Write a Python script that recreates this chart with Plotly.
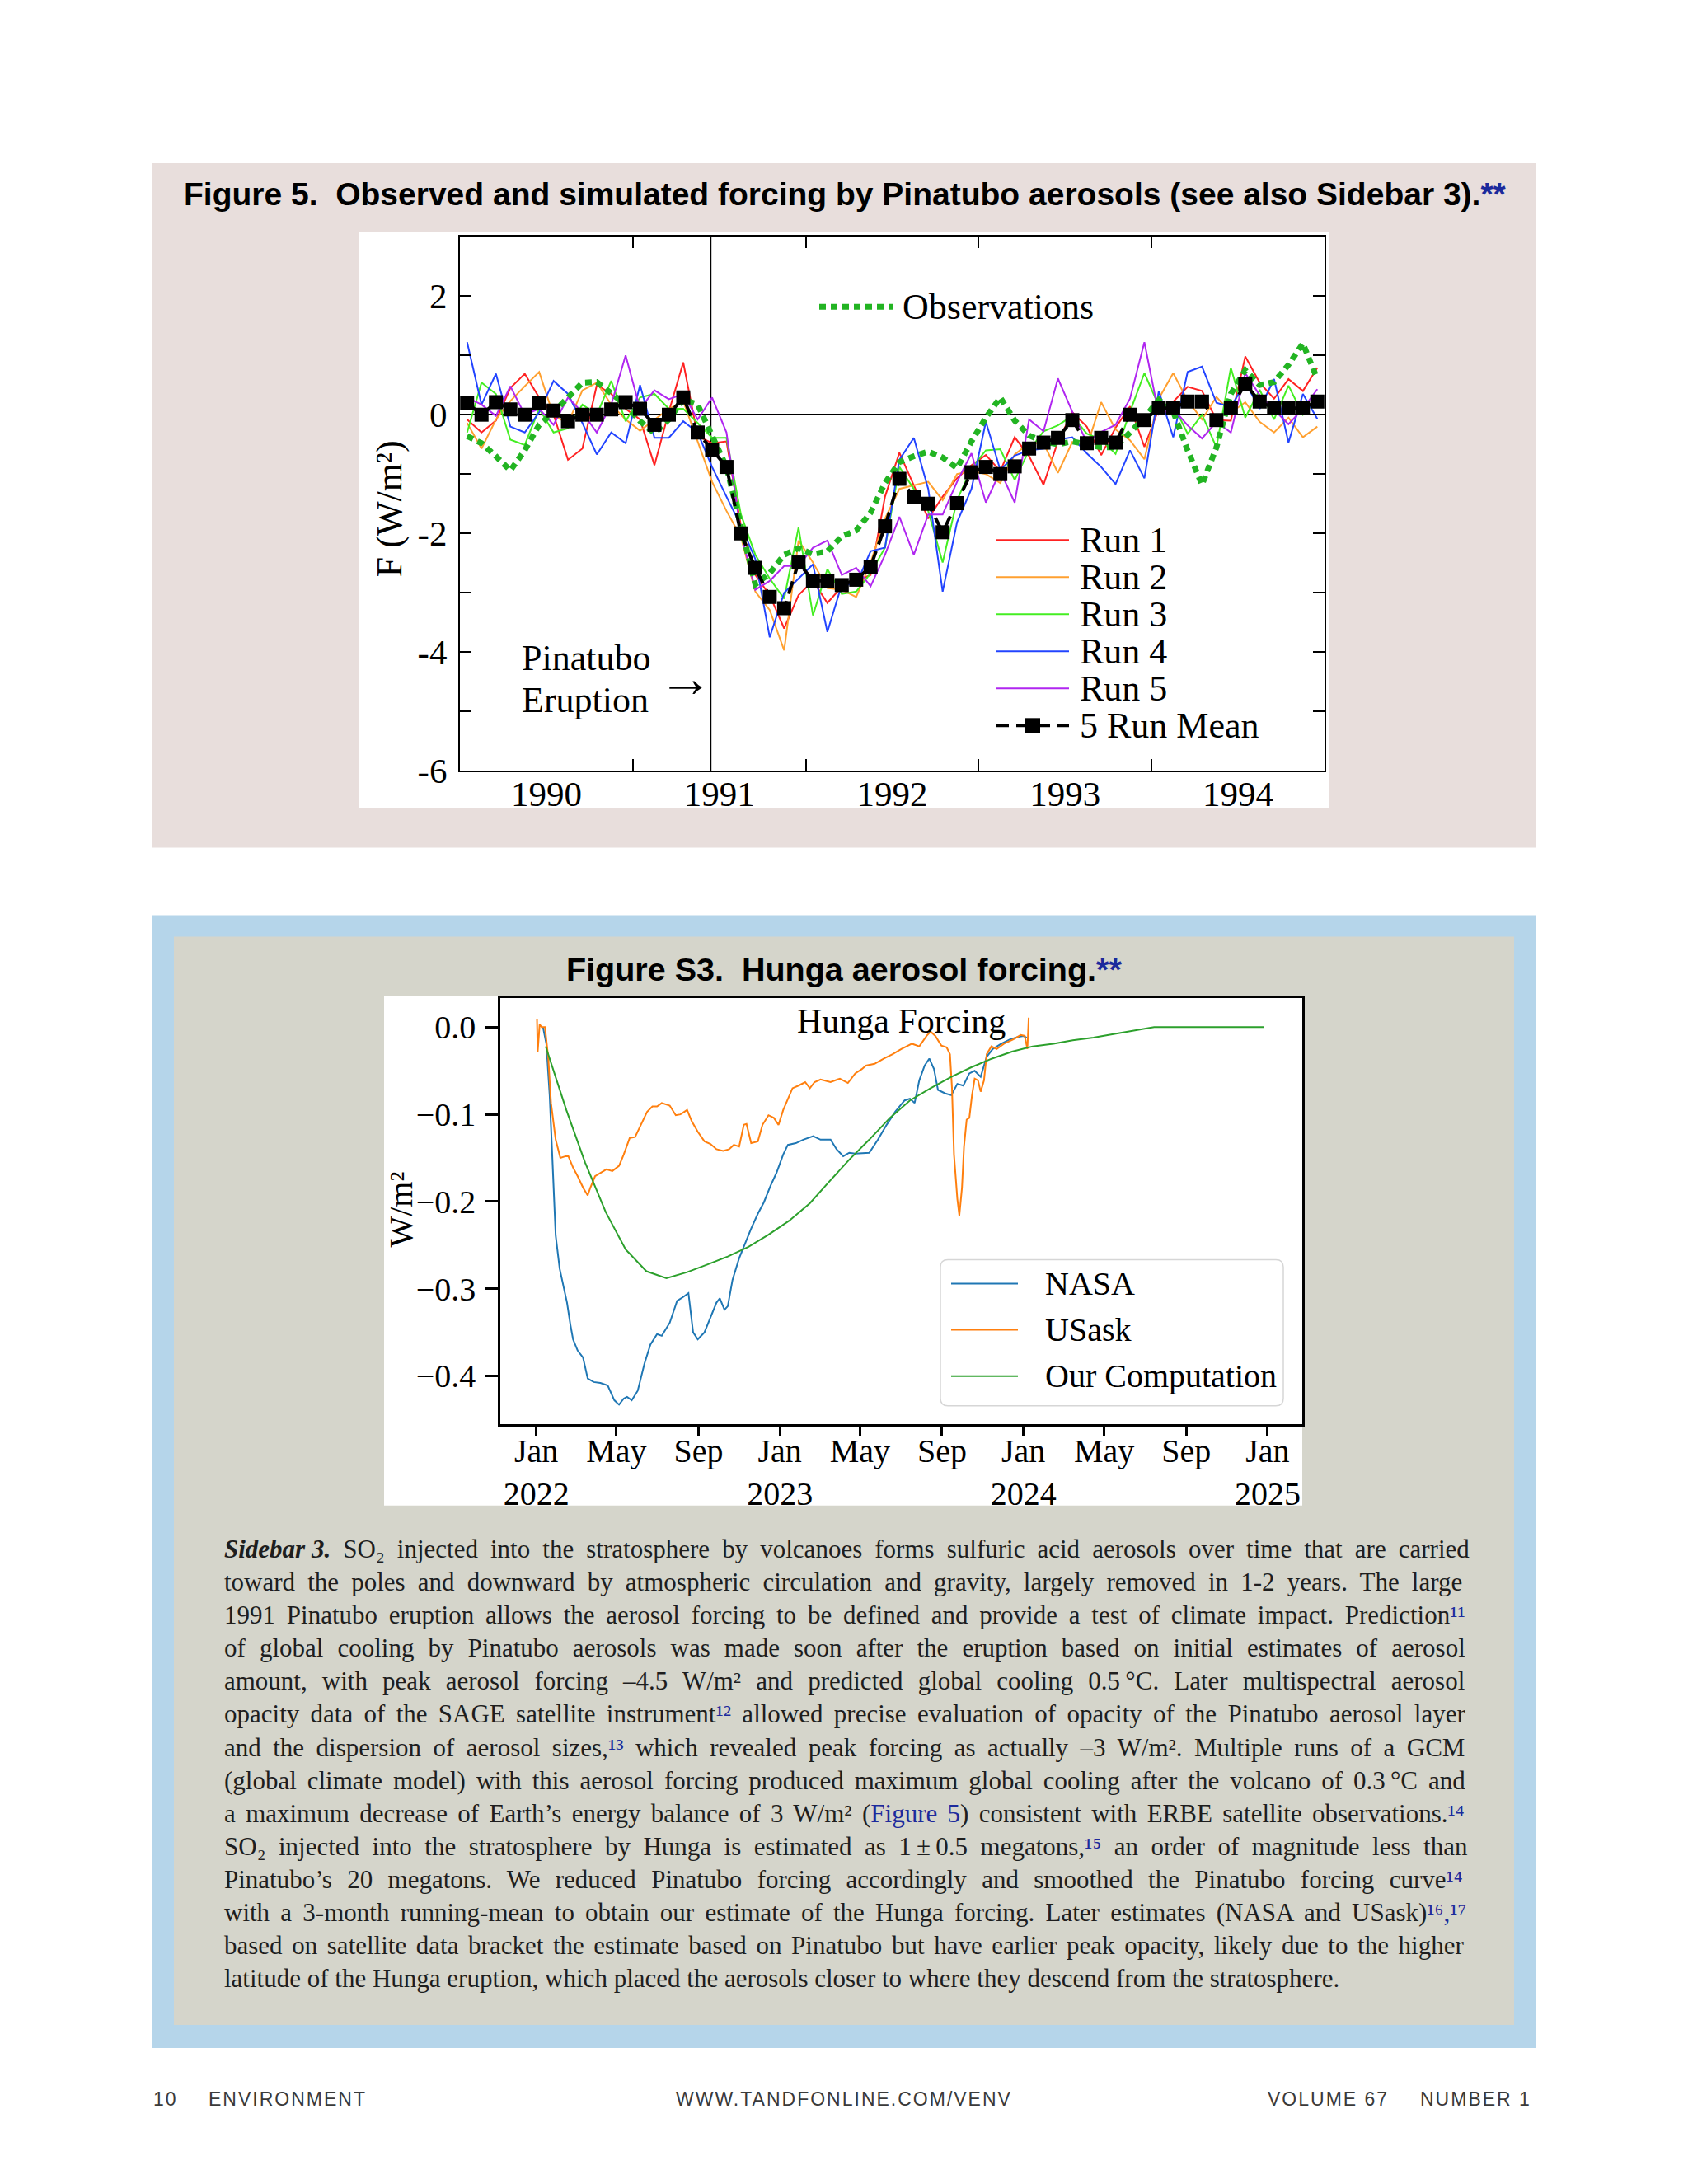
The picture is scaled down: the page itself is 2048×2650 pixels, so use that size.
import pandas as pd
import plotly.graph_objects as go

W, H = 2048, 2650          # reference page size (all positions below are given in these pixels)
FIG_H = 2675               # canvas height used so the photographed page maps 1:1 onto the reference

# ---------------- Figure 5 : Pinatubo forcing (monthly, Jan 1990 - Dec 1994) ----------------
months = pd.period_range("1990-01", periods=60, freq="M")
year_labels = ["1990", "1991", "1992", "1993", "1994"]
year_label_pos = [1990.5, 1991.5, 1992.5, 1993.5, 1994.5]
year_bounds = [1991, 1992, 1993, 1994]
eruption_year = 1991.45

run1 = [-0.08, -0.30, -0.10, 0.45, 0.69, 0.29, 0.00, -0.76, -0.57, 0.50,
        0.35, 0.10, -0.08, -0.85, 0.05, 0.88, -0.36, -0.48, -0.45, -1.87,
        -2.70, -3.04, -3.60, -3.04, -2.80, -3.17, -2.90, -2.80, -2.70, -1.38,
        -0.64, -1.19, -1.75, -1.38, -1.07, -0.85, -0.68, -0.95, -0.38, -0.70,
        -1.18, -0.45, 0.04, -0.20, -0.68, -0.22, 0.14, -0.54, 0.10, 0.22,
        0.47, 0.40, -0.09, -0.10, 0.98, 0.54, 0.27, 0.60, 0.40, 0.79]
run2 = [-0.14, -0.57, -0.08, 0.23, 0.48, 0.72, -0.02, -0.14, 0.41, 0.54,
        0.17, -0.08, -0.27, -0.08, 0.10, 0.23, -0.45, -1.13, -1.62, -2.06,
        -2.98, -3.29, -3.97, -2.12, -2.49, -2.92, -2.95, -3.07, -2.49, -1.75,
        -1.25, -1.19, -1.13, -1.44, -1.00, -0.95, -1.00, -1.15, -0.67, -0.48,
        -0.48, -0.98, -0.46, -0.54, 0.21, -0.25, -0.43, -0.75, 0.27, 0.70,
        0.24, -0.08, 0.30, 0.03, 0.21, -0.12, -0.30, -0.05, -0.38, -0.20]
run3 = [-0.30, 0.54, 0.35, -0.42, -0.51, 0.10, -0.30, -0.23, 0.17, 0.00,
        0.57, -0.11, 0.29, 0.35, 0.10, 0.10, -0.14, -0.39, -0.39, -1.68,
        -2.36, -2.76, -3.10, -1.90, -3.38, -2.60, -3.02, -2.98, -2.67, -2.24,
        -0.88, -1.25, -1.62, -2.49, -1.44, -0.90, -0.60, -0.58, -1.10, -0.60,
        -0.28, -0.18, -0.02, -0.32, -0.42, -0.66, 0.05, 0.70, 0.15, 0.17,
        -0.32, 0.00, -0.55, 0.79, -0.05, 0.42, -0.08, 0.49, 0.00, 0.26]
run4 = [1.22, 0.17, 0.69, -0.20, -0.30, 0.04, 0.57, 0.35, -0.14, -0.67,
        -0.30, -0.48, 0.50, -0.39, -0.39, -0.11, -0.30, -0.88, -1.38, -1.87,
        -2.43, -3.75, -3.00, -2.76, -2.52, -3.66, -2.86, -2.86, -2.30, -2.24,
        -0.76, -0.39, -1.25, -2.98, -1.81, -1.25, -0.12, -0.93, -0.69, -0.60,
        -0.57, -0.42, -0.38, -0.65, -0.88, -1.17, -0.60, -1.07, 0.40, -0.38,
        0.72, 0.81, 0.20, 0.13, 0.54, 0.10, 0.60, -0.47, 0.35, -0.07]
run5 = [0.29, 0.17, -0.02, 0.48, 0.00, 0.10, -0.17, 0.29, 0.04, -0.30,
        0.17, 1.00, 0.10, 0.41, 0.26, 0.35, -0.08, 0.29, -0.30, -2.00,
        -2.95, -2.80, -2.55, -2.55, -2.24, -2.12, -2.70, -2.58, -2.89, -2.36,
        -1.72, -2.36, -1.68, -1.68, -1.13, -0.65, -1.48, -0.95, -1.48, -0.08,
        -0.28, 0.61, 0.05, -0.46, -0.29, -0.17, 0.27, 1.22, 0.00, 0.10,
        -0.18, -0.40, -0.12, -0.30, 0.70, 0.33, 0.08, -0.16, 0.10, 0.43]
mean5 = [0.20, 0.00, 0.21, 0.09, 0.00, 0.20, 0.07, -0.11, 0.00, 0.00,
         0.09, 0.21, 0.10, -0.17, 0.00, 0.29, -0.30, -0.59, -0.88, -2.00,
         -2.58, -3.07, -3.26, -2.49, -2.80, -2.80, -2.87, -2.78, -2.56, -1.88,
         -1.08, -1.38, -1.50, -1.98, -1.49, -0.97, -0.88, -1.00, -0.87, -0.57,
         -0.47, -0.39, -0.09, -0.48, -0.39, -0.47, 0.00, -0.09, 0.11, 0.11,
         0.22, 0.22, -0.09, 0.11, 0.52, 0.22, 0.11, 0.11, 0.11, 0.22]
observations = [-0.36, -0.48, -0.70, -0.94, -0.60, -0.17, 0.04, 0.29, 0.54, 0.55,
                0.35, 0.17, -0.11, -0.31, -0.08, 0.26, 0.17, -0.33, -0.88, -1.87,
                -2.86, -2.67, -2.36, -2.25, -2.35, -2.30, -2.05, -1.95, -1.65, -1.15,
                -0.80, -0.70, -0.62, -0.72, -0.90, -0.45, -0.05, 0.29, -0.10, -0.35,
                -0.45, -0.50, -0.45, -0.50, -0.55, -0.55, -0.30, -0.05, 0.25, 0.05,
                -0.60, -1.18, -0.55, 0.35, 0.75, 0.50, 0.55, 0.84, 1.20, 0.60]

f5_y_ticks = [2, 0, -2, -4, -6]
f5_y_text = ["2", "0", "-2", "-4", "-6"]
f5_y_minor = [1, -1, -3, -5]
run_names = ["Run 1", "Run 2", "Run 3", "Run 4", "Run 5"]
run_colors = ["#FF2222", "#FFA030", "#44EE22", "#2244FF", "#B026F0"]
obs_color = "#22B422"

# ---------------- Figure S3 : Hunga forcing ----------------
s3_start = "2022-01-01"
nasa_day = [10, 15, 20, 25, 29, 35, 41, 46, 51, 55, 62, 70, 77, 86, 96, 107, 117, 124, 131, 136,
            143, 152, 162, 171, 181, 188, 200, 211, 221, 228, 235, 242, 252, 261, 270, 275, 282, 287,
            294, 304, 313, 322, 332, 341, 351, 360, 370, 377, 389, 400, 415, 426, 441, 450, 460, 469,
            478, 499, 512, 525, 538, 552, 560, 567, 574, 582, 589, 596, 602, 613, 622, 631, 640, 649,
            657, 666, 675, 684, 697, 710, 723, 730, 735]
nasa_val = [0.000, -0.019, -0.078, -0.163, -0.239, -0.277, -0.299, -0.316, -0.341, -0.358,
            -0.371, -0.379, -0.403, -0.407, -0.408, -0.411, -0.428, -0.433, -0.426, -0.424,
            -0.428, -0.417, -0.386, -0.364, -0.352, -0.354, -0.339, -0.314, -0.309, -0.305,
            -0.350, -0.358, -0.350, -0.333, -0.316, -0.311, -0.324, -0.320, -0.290, -0.265,
            -0.248, -0.231, -0.214, -0.201, -0.182, -0.167, -0.146, -0.135, -0.133, -0.129,
            -0.125, -0.129, -0.129, -0.140, -0.148, -0.144, -0.145, -0.144, -0.129, -0.112,
            -0.097, -0.084, -0.082, -0.087, -0.061, -0.044, -0.036, -0.048, -0.072, -0.076,
            -0.078, -0.065, -0.067, -0.053, -0.050, -0.057, -0.034, -0.025, -0.019, -0.014,
            -0.011, -0.010, -0.012]
usask_day = [1, 2, 5, 8, 13, 18, 22, 29, 36, 44, 48, 55, 62, 70, 77, 81, 88, 96, 105, 114,
             124, 131, 140, 148, 157, 166, 174, 181, 188, 200, 209, 216, 226, 233, 242, 252, 261,
             270, 280, 289, 296, 304, 311, 315, 322, 332, 339, 348, 356, 363, 370, 379, 384, 393,
             403, 410, 417, 426, 441, 455, 467, 478, 488, 494, 507, 521, 534, 547, 563, 574, 585,
             591, 598, 607, 615, 620, 623, 626, 631, 634, 638, 641, 645, 649, 653, 657, 662, 666,
             671, 675, 682, 690, 701, 715, 726, 732, 736, 738]
usask_val = [0.009, -0.029, 0.003, 0.000, 0.000, -0.036, -0.087, -0.129, -0.150, -0.148,
             -0.148, -0.161, -0.171, -0.184, -0.193, -0.184, -0.171, -0.167, -0.163, -0.165,
             -0.159, -0.146, -0.127, -0.126, -0.112, -0.097, -0.091, -0.091, -0.087, -0.090,
             -0.101, -0.100, -0.095, -0.108, -0.120, -0.131, -0.134, -0.140, -0.142, -0.140,
             -0.135, -0.137, -0.112, -0.111, -0.133, -0.131, -0.112, -0.101, -0.104, -0.112,
             -0.095, -0.078, -0.070, -0.067, -0.063, -0.070, -0.063, -0.060, -0.063, -0.059,
             -0.064, -0.053, -0.048, -0.044, -0.042, -0.036, -0.031, -0.025, -0.019, -0.022,
             -0.010, -0.005, -0.010, -0.021, -0.023, -0.031, -0.070, -0.146, -0.197, -0.216,
             -0.184, -0.137, -0.106, -0.104, -0.078, -0.059, -0.061, -0.074, -0.061, -0.031,
             -0.022, -0.025, -0.019, -0.014, -0.009, -0.010, -0.025, 0.011]
ours_date = ["2022-01-15", "2022-02-15", "2022-03-15", "2022-04-15", "2022-05-15", "2022-06-15",
             "2022-07-15", "2022-08-15", "2022-09-15", "2022-10-15", "2022-11-15", "2022-12-15",
             "2023-01-15", "2023-02-15", "2023-03-15", "2023-04-15", "2023-05-15", "2023-06-15",
             "2023-07-15", "2023-08-15", "2023-09-15", "2023-10-15", "2023-11-15", "2023-12-15",
             "2024-01-15", "2024-02-15", "2024-03-15", "2024-04-15", "2024-05-15", "2024-06-15",
             "2024-07-15", "2024-08-15", "2024-09-15", "2024-10-15", "2024-11-15", "2024-12-15",
             "2024-12-27"]
ours_val = [-0.022, -0.095, -0.155, -0.212, -0.255, -0.280, -0.288, -0.281, -0.272, -0.263,
            -0.252, -0.238, -0.222, -0.202, -0.178, -0.152, -0.129, -0.104, -0.084, -0.070,
            -0.057, -0.046, -0.036, -0.028, -0.022, -0.019, -0.015, -0.012, -0.008, -0.004,
            0.000, 0.000, 0.000, 0.000, 0.000, 0.000, 0.000]
s3_tick_dates = ["2022-01-01", "2022-05-01", "2022-09-01", "2023-01-01", "2023-05-01",
                 "2023-09-01", "2024-01-01", "2024-05-01", "2024-09-01", "2025-01-01"]
s3_tick_text = ["Jan<br>2022", "May", "Sep", "Jan<br>2023", "May", "Sep",
                "Jan<br>2024", "May", "Sep", "Jan<br>2025"]
s3_y_ticks = [0.0, -0.1, -0.2, -0.3, -0.4]
s3_y_text = ["0.0", "\u22120.1", "\u22120.2", "\u22120.3", "\u22120.4"]
s3_names = ["NASA", "USask", "Our Computation"]
s3_colors = ["#1f77b4", "#ff7f0e", "#2ca02c"]

# ---------------- sidebar text ----------------
sidebar_lines = [
    [("bi", "Sidebar 3."), ("n", " SO\u2082 injected into the stratosphere by volcanoes forms sulfuric acid aerosols over time that are carried")],
    [("n", "toward the poles and downward by atmospheric circulation and gravity, largely removed in 1-2 years. The large")],
    [("n", "1991 Pinatubo eruption allows the aerosol forcing to be defined and provide a test of climate impact. Prediction"), ("ref", "\u00b9\u00b9")],
    [("n", "of global cooling by Pinatubo aerosols was made soon after the eruption based on initial estimates of aerosol")],
    [("n", "amount, with peak aerosol forcing \u20134.5 W/m\u00b2 and predicted global cooling 0.5\u2009\u00b0C. Later multispectral aerosol")],
    [("n", "opacity data of the SAGE satellite instrument"), ("ref", "\u00b9\u00b2"), ("n", " allowed precise evaluation of opacity of the Pinatubo aerosol layer")],
    [("n", "and the dispersion of aerosol sizes,"), ("ref", "\u00b9\u00b3"), ("n", " which revealed peak forcing as actually \u20133 W/m\u00b2. Multiple runs of a GCM")],
    [("n", "(global climate model) with this aerosol forcing produced maximum global cooling after the volcano of 0.3\u2009\u00b0C and")],
    [("n", "a maximum decrease of Earth\u2019s energy balance of 3 W/m\u00b2 ("), ("link", "Figure 5"), ("n", ") consistent with ERBE satellite observations."), ("ref", "\u00b9\u2074")],
    [("n", "SO\u2082 injected into the stratosphere by Hunga is estimated as 1\u2009\u00b1\u20090.5 megatons,"), ("ref", "\u00b9\u2075"), ("n", " an order of magnitude less than")],
    [("n", "Pinatubo\u2019s 20 megatons. We reduced Pinatubo forcing accordingly and smoothed the Pinatubo forcing curve"), ("ref", "\u00b9\u2074")],
    [("n", "with a 3-month running-mean to obtain our estimate of the Hunga forcing. Later estimates (NASA and USask)"), ("ref", "\u00b9\u2076,\u00b9\u2077")],
    [("n", "based on satellite data bracket the estimate based on Pinatubo but have earlier peak opacity, likely due to the higher")],
    [("n", "latitude of the Hunga eruption, which placed the aerosols closer to where they descend from the stratosphere.")],
]

# ================= helpers (layout only) =================
SERIF = "Liberation Serif, Times New Roman, serif"
SANS = "Liberation Sans, Arial, sans-serif"
LINK = "#1c2a9c"


def X(px):
    return px / W


def Y(py):
    return 1 - py / H


shapes = []
annotations = []


def rect(x0, y0, x1, y1, fill, line=None, layer="below"):
    shapes.append(dict(type="rect", xref="paper", yref="paper", x0=X(x0), x1=X(x1), y0=Y(y1), y1=Y(y0),
                       fillcolor=fill, line=dict(width=0) if line is None else line, layer=layer))


def hline(x0, x1, y, color, width, dash="solid"):
    shapes.append(dict(type="line", xref="paper", yref="paper", x0=X(x0), x1=X(x1), y0=Y(y), y1=Y(y),
                       line=dict(color=color, width=width, dash=dash), layer="above"))


def ann(text, x, y, size, family=SERIF, xanchor="center", yanchor="middle", color="black", angle=0):
    annotations.append(dict(text=text, x=X(x), y=Y(y), xref="paper", yref="paper", showarrow=False,
                            xanchor=xanchor, yanchor=yanchor, align="left", textangle=angle,
                            font=dict(family=family, size=size, color=color)))


# page panels
rect(184, 198, 1864, 1028, "#E8DEDC")
rect(436, 281, 1612, 980, "white")
rect(184, 1110, 1864, 2484, "#B5D5EA")
rect(211, 1136, 1837, 2456, "#D5D5CB")
rect(466, 1208, 1580, 1826, "white")

fig = go.Figure()

# ---------- Figure 5 traces ----------
xm = [p.year + (p.month - 0.5) / 12 for p in months]
for name, vals, col in zip(run_names, [run1, run2, run3, run4, run5], run_colors):
    fig.add_trace(go.Scatter(x=xm, y=vals, name=name, mode="lines", xaxis="x", yaxis="y",
                             line=dict(color=col, width=2)))
fig.add_trace(go.Scatter(x=xm, y=observations, name="Observations", mode="lines", xaxis="x", yaxis="y",
                         line=dict(color=obs_color, width=7, dash="8px,6px")))
fig.add_trace(go.Scatter(x=xm, y=mean5, name="5 Run Mean", mode="lines+markers", xaxis="x", yaxis="y",
                         line=dict(color="black", width=4, dash="16px,9px"),
                         marker=dict(symbol="square", size=17, color="black")))

shapes.append(dict(type="line", xref="x", yref="y domain", x0=eruption_year, x1=eruption_year, y0=0, y1=1,
                   line=dict(color="black", width=2), layer="below"))

# ---------- Figure S3 traces ----------
t0 = pd.Timestamp(s3_start)
nasa_x = t0 + pd.to_timedelta(nasa_day, unit="D")
usask_x = t0 + pd.to_timedelta(usask_day, unit="D")
for name, xs, ys, col in zip(s3_names, [nasa_x, usask_x, pd.to_datetime(ours_date)],
                             [nasa_val, usask_val, ours_val], s3_colors):
    fig.add_trace(go.Scatter(x=xs, y=ys, name=name, mode="lines", xaxis="x2", yaxis="y2",
                             line=dict(color=col, width=2)))

# ---------- Figure 5 legends / labels ----------
hline(994, 1083, 372, obs_color, 7, "8px,6px")
ann("Observations", 1093, 372, 44, xanchor="left")
legend_rows = [655, 700, 745, 790, 835]
for name, col, yy in zip(run_names, run_colors, legend_rows):
    hline(1208, 1297, yy, col, 2)
    ann(name, 1308, yy, 44, xanchor="left")
hline(1208, 1297, 880, "black", 4, "16px,9px")
rect(1244, 871, 1262, 889, "black", layer="above")
ann("5 Run Mean", 1308, 880, 44, xanchor="left")
ann("Pinatubo", 631, 798, 44, xanchor="left")
ann("Eruption", 631, 849, 44, xanchor="left")
ann("\u2192", 832, 822, 66)
ann("F (W/m\u00b2)", 472, 617, 44, angle=-90)

# ---------- Figure S3 legend / labels ----------
r = 9
lx0, ly0, lx1, ly1 = 1141, 1528, 1557, 1705
path = (f"M {X(lx0 + r)},{Y(ly0)} L {X(lx1 - r)},{Y(ly0)} Q {X(lx1)},{Y(ly0)} {X(lx1)},{Y(ly0 + r)} "
        f"L {X(lx1)},{Y(ly1 - r)} Q {X(lx1)},{Y(ly1)} {X(lx1 - r)},{Y(ly1)} "
        f"L {X(lx0 + r)},{Y(ly1)} Q {X(lx0)},{Y(ly1)} {X(lx0)},{Y(ly1 - r)} "
        f"L {X(lx0)},{Y(ly0 + r)} Q {X(lx0)},{Y(ly0)} {X(lx0 + r)},{Y(ly0)} Z")
shapes.append(dict(type="path", xref="paper", yref="paper", path=path, fillcolor="rgba(255,255,255,0.85)",
                   line=dict(color="#d6d6d6", width=1.5), layer="above"))
for name, col, yy in zip(s3_names, s3_colors, [1557, 1613, 1669]):
    hline(1154, 1235, yy, col, 2)
    ann(name, 1266, yy, 40, xanchor="left")
ann("Hunga Forcing", 1093, 1239, 42)
ann("W/m\u00b2", 487, 1467, 40, angle=-90)

# ---------- titles ----------
ann(f"<b>Figure 5.  Observed and simulated forcing by Pinatubo aerosols (see also Sidebar 3).<span style='color:{LINK}'>**</span></b>",
    1025, 235, 39, family=SANS)
ann(f"<b>Figure S3.  Hunga aerosol forcing.<span style='color:{LINK}'>**</span></b>", 1024, 1176, 39.5, family=SANS)

# ---------- sidebar paragraph (justified lines) ----------
TW = {" ": 250, "(": 333, ")": 333, ",": 250, "-": 333, ".": 250, "/": 278, ":": 278, ";": 278,
      "\u2019": 333, "\u2013": 500, "\u00b1": 564, "\u00b0": 400, "\u2009": 200, "\u2082": 300,
      "\u00b2": 300, "\u00b3": 300, "\u00b9": 300, "\u2074": 300, "\u2075": 300, "\u2076": 300, "\u2077": 300}
for c in "0123456789":
    TW[c] = 500
TW.update(dict(zip("ABCDEFGHIJKLMNOPQRSTUVWXYZ",
                   [722, 667, 667, 722, 611, 556, 722, 722, 333, 389, 722, 611, 889, 722, 722, 556, 722, 667, 556, 611, 722, 722, 944, 722, 722, 611])))
TW.update(dict(zip("abcdefghijklmnopqrstuvwxyz",
                   [444, 500, 444, 500, 444, 333, 500, 500, 278, 278, 500, 278, 778, 500, 500, 500, 500, 333, 389, 278, 500, 500, 722, 500, 500, 444])))


def seg_em(text):
    return sum(TW.get(c, 500) for c in text) / 1000.0


line_em = [sum(seg_em(t) for k, t in ln) for ln in sidebar_lines]
fs = min(31.0, 1500.0 / max(line_em[:-1]))
left, right = 270, 1776
for i, ln in enumerate(sidebar_lines):
    nsp = sum(t.count(" ") for k, t in ln if k in ("n", "link"))
    ws = 0.0
    if i < len(sidebar_lines) - 1 and nsp:
        ws = max(0.0, ((right - left) - line_em[i] * fs) / nsp)
    parts = []
    for k, t in ln:
        if k == "n":
            parts.append(f"<span style='word-spacing:{ws:.2f}px'>{t}</span>")
        elif k == "bi":
            parts.append(f"<b><i>{t}</i></b>")
        elif k == "ref":
            parts.append(f"<span style='color:{LINK}'>{t}</span>")
        elif k == "link":
            parts.append(f"<span style='color:{LINK};word-spacing:{ws:.2f}px'>{t}</span>")
    ann("".join(parts), left, 1879 + 40.04 * i, fs, xanchor="left", color="#1e1e1e")

# ---------- footer ----------
foot = dict(size=23, family=SANS, color="#3a3a3a")
ann("<span style='letter-spacing:2px'>10</span>", 184, 2546, xanchor="left", **foot)
ann("<span style='letter-spacing:2px'>ENVIRONMENT</span>", 251, 2546, xanchor="left", **foot)
ann("<span style='letter-spacing:2px'>WWW.TANDFONLINE.COM/VENV</span>", 1024, 2546, **foot)
ann("<span style='letter-spacing:2px'>VOLUME 67</span>", 1536, 2546, xanchor="left", **foot)
ann("<span style='letter-spacing:2px'>NUMBER 1</span>", 1860, 2546, xanchor="right", **foot)

# ================= layout =================
tick_font5 = dict(family=SERIF, size=43, color="black")
tick_font3 = dict(family=SERIF, size=40, color="black")
fig.update_layout(
    width=W, height=FIG_H, margin=dict(l=0, r=0, t=0, b=0, pad=0),
    paper_bgcolor="white", plot_bgcolor="white", showlegend=False,
    font=dict(family=SERIF, color="black"),
    xaxis=dict(domain=[X(558), X(1607)], range=[1990, 1995], anchor="y",
               tickmode="array", tickvals=year_label_pos, ticktext=year_labels, ticks="", ticklen=0,
               showline=True, linecolor="black", linewidth=2, mirror="allticks", showgrid=False,
               zeroline=False, tickfont=tick_font5, ticklabelstandoff=-11,
               minor=dict(tickmode="array", tickvals=year_bounds, ticks="inside", ticklen=14,
                          tickwidth=2, tickcolor="black", showgrid=False)),
    yaxis=dict(domain=[Y(935), Y(287)], range=[-6, 3], anchor="x",
               tickmode="array", tickvals=f5_y_ticks, ticktext=f5_y_text, ticks="inside", ticklen=14,
               tickwidth=2, tickcolor="black", showline=True, linecolor="black", linewidth=2,
               mirror="allticks", showgrid=False, zeroline=True, zerolinecolor="black", zerolinewidth=2,
               tickfont=tick_font5, ticklabelstandoff=5,
               minor=dict(tickmode="array", tickvals=f5_y_minor, ticks="inside", ticklen=14,
                          tickwidth=2, tickcolor="black", showgrid=False)),
    xaxis2=dict(domain=[X(607), X(1580)], type="date", range=["2021-11-08", "2025-02-22"], anchor="y2",
                tickmode="array", tickvals=s3_tick_dates, ticktext=s3_tick_text, ticks="outside",
                ticklen=12, tickwidth=2.5, tickcolor="black", showline=True, linecolor="black",
                linewidth=2.5, mirror=True, showgrid=False, zeroline=False, tickfont=tick_font3,
                ticklabelstandoff=-16),
    yaxis2=dict(domain=[Y(1727), Y(1211)], range=[-0.455, 0.033], anchor="x2",
                tickmode="array", tickvals=s3_y_ticks, ticktext=s3_y_text, ticks="outside",
                ticklen=15, tickwidth=2.5, tickcolor="black", showline=True, linecolor="black",
                linewidth=2.5, mirror=True, showgrid=False, zeroline=False, tickfont=tick_font3,
                ticklabelstandoff=4),
    shapes=shapes, annotations=annotations,
)

fig.write_html("out.html", config={"displayModeBar": False},
               post_script="document.body.style.margin='0';document.body.style.padding='0';"
                           "document.documentElement.style.overflow='hidden';")
